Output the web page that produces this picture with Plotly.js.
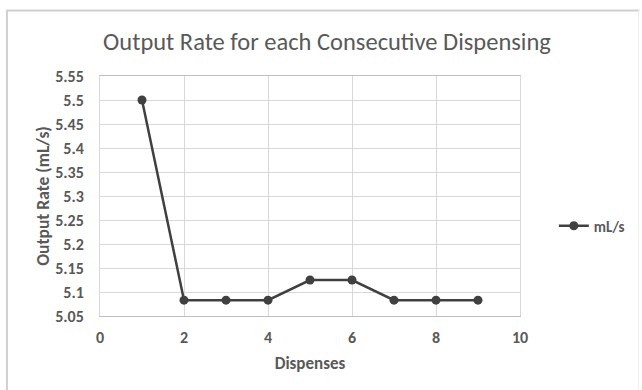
<!DOCTYPE html>
<html>
<head>
<meta charset="utf-8">
<script src="https://cdn.plot.ly/plotly-3.0.1.min.js"></script>
<style>
  html, body { margin: 0; padding: 0; background: #ffffff; }
  #chart { width: 642px; height: 390px; }
</style>
</head>
<body>
<div id="chart"></div>
<script>
// Output rate measured for each consecutive dispense
const dispenses = [1, 2, 3, 4, 5, 6, 7, 8, 9];
const outputRate = [5.5, 5.083, 5.083, 5.083, 5.125, 5.125, 5.083, 5.083, 5.083];
const seriesName = 'mL/s';

const xTicks = [0, 2, 4, 6, 8, 10];
const yTicks = [5.05, 5.1, 5.15, 5.2, 5.25, 5.3, 5.35, 5.4, 5.45, 5.5, 5.55];
const yTickLabels = ['5.05', '5.1', '5.15', '5.2', '5.25', '5.3', '5.35', '5.4', '5.45', '5.5', '5.55'];

const W = 642, H = 390;
const M = { l: 100, r: 120, t: 76, b: 74 };
const pw = W - M.l - M.r, ph = H - M.t - M.b;
// pixel -> paper coordinates for the chart frame
const px = v => (v - M.l) / pw;
const py = v => 1 - (v - M.t) / ph;

const textColor = '#595959';
const font = 'Calibri, Carlito, "Noto Sans", sans-serif';

const trace = {
  x: dispenses,
  y: outputRate,
  name: seriesName,
  type: 'scatter',
  mode: 'lines+markers',
  line: { color: '#404040', width: 2.5 },
  marker: { color: '#404040', size: 9 }
};

const layout = {
  width: W,
  height: H,
  margin: M,
  paper_bgcolor: '#ffffff',
  plot_bgcolor: '#ffffff',
  font: { family: font, color: textColor },
  title: {
    text: 'Output Rate for each Consecutive Dispensing',
    font: { family: font, size: 24.5, color: textColor },
    xref: 'container', x: 327 / W, xanchor: 'center',
    yref: 'container', y: 1 - 41 / H, yanchor: 'middle'
  },
  xaxis: {
    range: [0, 10],
    tickvals: xTicks,
    ticktext: xTicks.map(String),
    showgrid: true,
    gridcolor: '#d9d9d9',
    gridwidth: 1,
    zeroline: false,
    showline: true,
    linecolor: '#bfbfbf',
    linewidth: 1,
    mirror: true,
    ticks: 'outside',
    ticklen: 7,
    tickcolor: 'rgba(0,0,0,0)',
    tickfont: { family: font, size: 16, color: textColor, weight: 'bold' },
    title: {
      text: 'Dispenses',
      font: { family: font, size: 17, color: textColor, weight: 'bold' },
      standoff: 10
    }
  },
  yaxis: {
    range: [5.05, 5.55],
    tickvals: yTicks,
    ticktext: yTickLabels,
    showgrid: true,
    gridcolor: '#d9d9d9',
    gridwidth: 1,
    zeroline: false,
    showline: true,
    linecolor: '#d9d9d9',
    linewidth: 1,
    mirror: true,
    ticks: 'outside',
    ticklen: 12,
    tickcolor: 'rgba(0,0,0,0)',
    tickfont: { family: font, size: 16, color: textColor, weight: 'bold' },
    title: {
      text: 'Output Rate (mL/s)',
      font: { family: font, size: 17.5, color: textColor, weight: 'bold' },
      standoff: 1
    }
  },
  showlegend: true,
  legend: {
    x: px(556), xanchor: 'left',
    y: py(226), yanchor: 'middle',
    bgcolor: 'rgba(0,0,0,0)',
    font: { family: font, size: 15, color: textColor, weight: 'bold' },
    itemwidth: 30
  },
  shapes: [
    // chart frame: top, left and right edges
    { type: 'line', xref: 'paper', yref: 'paper', x0: px(6), x1: px(642), y0: py(10.5), y1: py(10.5), line: { color: '#d0d0d0', width: 2 } },
    { type: 'line', xref: 'paper', yref: 'paper', x0: px(6.5), x1: px(6.5), y0: py(10), y1: py(390), line: { color: '#d0d0d0', width: 2 } },
    { type: 'line', xref: 'paper', yref: 'paper', x0: px(641), x1: px(641), y0: py(10), y1: py(390), line: { color: '#eeeeee', width: 1 } }
  ]
};

Plotly.newPlot('chart', [trace], layout, { displayModeBar: false, staticPlot: true });
</script>
</body>
</html>
